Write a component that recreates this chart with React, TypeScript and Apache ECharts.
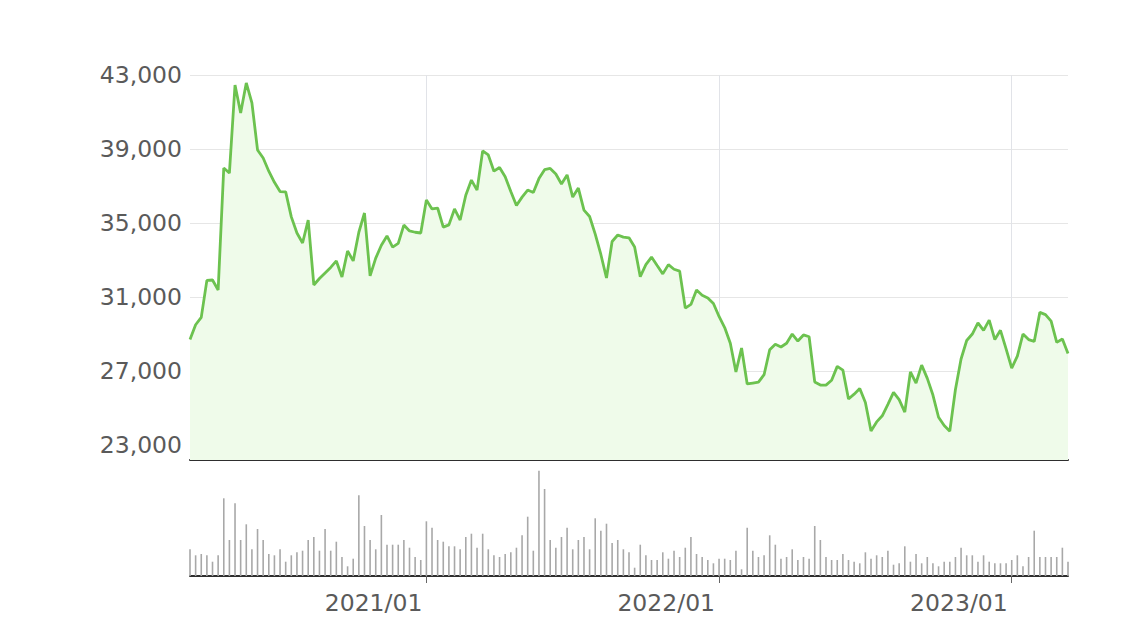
import React, { useEffect, useRef } from "react";
import * as echarts from "echarts";

// Weekly closing prices (Fridays), 2020-03-13 .. 2023-03-10
const START_DATE = "2020-03-13";
const WEEK_COUNT = 157;

const prices: number[] = [
  28700, 29500, 29900, 31900, 31920, 31380, 37970, 37700, 42460, 40950,
  42570, 41490, 38950, 38510, 37800, 37200, 36700, 36680, 35330, 34460,
  33920, 35160, 31650, 32000, 32300, 32600, 32950, 32080, 33490, 32950,
  34500, 35540, 32140, 33100, 33800, 34300, 33700, 33900, 34890, 34570,
  34500, 34460, 36240, 35760, 35810, 34780, 34900, 35760, 35160, 36500,
  37320, 36780, 38900, 38680, 37800, 38000, 37500, 36700, 35950, 36400,
  36780, 36650, 37400, 37880, 37950, 37650, 37110, 37600, 36400, 36890,
  35700, 35350, 34400, 33300, 32030, 34000, 34350, 34240, 34200, 33700,
  32100, 32750, 33160, 32700, 32250, 32750, 32500, 32400, 30400, 30600,
  31380, 31100, 30950, 30650, 29950, 29350, 28500, 26950, 28240, 26300,
  26350, 26400, 26800, 28150, 28450, 28300, 28500, 29000, 28620, 28950,
  28850, 26410, 26240, 26240, 26500, 27250, 27050, 25490, 25750, 26050,
  25300, 23760, 24250, 24580, 25200, 25850, 25450, 24780, 26950, 26350,
  27320, 26600, 25700, 24500, 24050, 23750, 26000, 27650, 28650, 29000,
  29600, 29200, 29750, 28700, 29200, 28200, 27160, 27800, 29000, 28700,
  28600, 30170, 30050, 29700, 28550, 28730, 27950,
];

const volumes: number[] = [
  26.7, 20.7, 22, 20.7, 14.3, 20.7, 77.7, 36, 72.7, 36,
  51.7, 26.7, 47, 36, 22, 20.7, 26.7, 14.3, 20.7, 23.7,
  25.3, 36, 39, 25.3, 47, 25.3, 34.3, 19, 9.7, 17.3,
  80.7, 50, 36, 26.7, 61, 31.3, 31.3, 31.3, 36, 28.3,
  19, 16, 54.7, 48.3, 36, 34.3, 29.7, 29.7, 26.7, 39,
  42.3, 28.3, 42.3, 26.7, 20.7, 19, 22, 23.7, 28.3, 40.7,
  59.3, 25.3, 105.3, 87, 36, 28.3, 39, 48.3, 26.7, 36,
  39, 26.7, 57.7, 45.3, 52.3, 33, 36,
  26.7, 23.7, 8.3, 31.3, 20.7, 16, 16, 23.7, 17.3, 25.3,
  19, 28.3, 39, 22, 19, 16, 12.7, 17.3, 17.3, 16,
  25.3, 6.7, 48.3, 25.3, 19, 20.7, 40.7, 31.3, 17.3, 19,
  26.7, 16, 19, 17.3, 50, 36, 19, 16, 16, 22,
  16, 14.3, 12.7, 23.7, 17.3, 20.7, 19, 25.3, 11.3, 12.7,
  29.7, 14.3, 22, 12.7, 19, 12.7, 9.7, 14.3, 14.3, 19,
  28.3, 20.7, 20.7, 14.3, 20.7, 14.3, 12.7, 12.7, 12.7, 16,
  20.7, 9.7, 19, 45.3, 19, 19, 19, 19, 28.3, 14.3,
];

const priceTicks: number[] = [23000, 27000, 31000, 35000, 39000, 43000];

const DAY = 86400000;
const weekDates: string[] = (() => {
  const out: string[] = [];
  const t0 = Date.parse(START_DATE + "T00:00:00Z");
  for (let i = 0; i < WEEK_COUNT; i++) {
    out.push(new Date(t0 + i * 7 * DAY).toISOString().slice(0, 10));
  }
  return out;
})();

// year of the date shifted by half a week (week closest to Jan 1 marks the year)
const shiftedYear = (i: number) =>
  new Date(Date.parse(weekDates[i] + "T00:00:00Z") + 3 * DAY).getUTCFullYear();
const isYearMark = (i: number) => i > 0 && shiftedYear(i) !== shiftedYear(i - 1);

const FONT = "DejaVu Sans";

export default function App() {
  const ref = useRef<HTMLDivElement>(null);
  useEffect(() => {
    if (!ref.current) return;
    const chart = echarts.init(ref.current, null, { renderer: "svg" });
    chart.setOption({
      animation: false,
      backgroundColor: "#ffffff",
      grid: [
        { left: 190, right: 57, top: 75, height: 385 },
        { left: 190, right: 57, top: 466, height: 110 },
      ],
      xAxis: [
        {
          type: "category",
          gridIndex: 0,
          data: weekDates,
          boundaryGap: false,
          axisLine: { show: true, lineStyle: { color: "#2e2e2e", width: 2 } },
          axisTick: { show: false },
          axisLabel: { show: false },
          splitLine: {
            show: true,
            interval: (i: number) => isYearMark(i),
            lineStyle: { color: "#e1e3e8", width: 1 },
          },
        },
        {
          type: "category",
          gridIndex: 1,
          data: weekDates,
          boundaryGap: false,
          axisLine: { show: true, lineStyle: { color: "#2e2e2e", width: 2 } },
          axisTick: {
            show: true,
            length: 7,
            interval: (i: number) => isYearMark(i),
            lineStyle: { color: "#666666", width: 1 },
          },
          axisLabel: {
            show: true,
            interval: (i: number) => isYearMark(i),
            formatter: (_v: string, i: number) => `${shiftedYear(i)}/01`,
            align: "right",
            padding: [0, 4, 0, 0],
            margin: 15,
            fontSize: 23.5,
            fontFamily: FONT,
            color: "#5a5a5a",
          },
          splitLine: { show: false },
        },
      ],
      yAxis: [
        {
          type: "value",
          gridIndex: 0,
          min: 22190,
          max: 43000,
          axisLine: { show: false },
          axisTick: { show: false, customValues: priceTicks },
          axisLabel: {
            customValues: priceTicks,
            formatter: (v: number) => v.toLocaleString("en-US"),
            fontSize: 23.5,
            fontFamily: FONT,
            color: "#5a5a5a",
            margin: 8,
          },
          splitLine: { show: true, lineStyle: { color: "#e6e6e6", width: 1 } },
        },
        {
          type: "value",
          gridIndex: 1,
          min: 0,
          max: 110,
          axisLine: { show: false },
          axisTick: { show: false },
          axisLabel: { show: false },
          splitLine: { show: false },
        },
      ],
      series: [
        {
          type: "line",
          xAxisIndex: 0,
          yAxisIndex: 0,
          data: prices,
          showSymbol: false,
          symbol: "none",
          lineStyle: { color: "#6cc24f", width: 2.8 },
          itemStyle: { color: "#6cc24f" },
          areaStyle: { color: "#effbea", opacity: 1 },
        },
        {
          type: "bar",
          xAxisIndex: 1,
          yAxisIndex: 1,
          data: volumes,
          barWidth: 1.6,
          itemStyle: { color: "#a8a8a8" },
        },
      ],
    });
    return () => chart.dispose();
  }, []);
  return (
    <div
      ref={ref}
      style={{ position: "fixed", left: 0, top: 0, width: 1125, height: 631 }}
    />
  );
}
